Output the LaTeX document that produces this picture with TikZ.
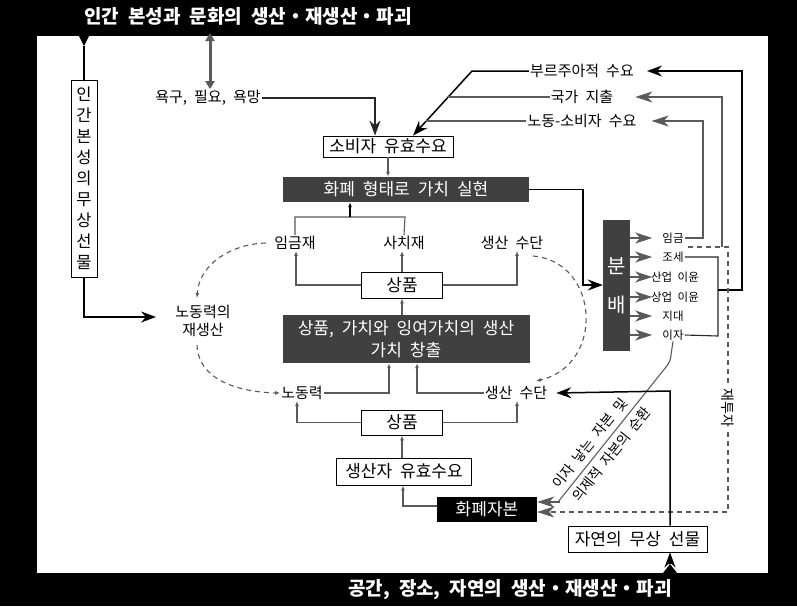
\documentclass[tikz,border=0pt]{standalone}
\usepackage{fontspec}
\setmainfont{Noto Sans CJK KR}[WordSpace=2.1]
\usetikzlibrary{arrows.meta,calc}
\definecolor{dk}{HTML}{404040}
\definecolor{gl}{HTML}{5A5A5A}
\begin{document}
\begin{tikzpicture}[x=1pt,y=-1pt,
  gline/.style={draw=gl, line width=1.1pt},
  bline/.style={draw=black, line width=1.5pt},
  kline/.style={draw=black!85, line width=1.1pt},
  sarr/.style={-{Latex[length=5pt,width=4pt]}},
  bigg/.style={-{Stealth[length=17pt,width=11pt,inset=5pt]}},
  bigb/.style={-{Stealth[length=15pt,width=11pt,inset=5pt]}},
  lbl/.style={font=\fontsize{15}{18}\selectfont, inner sep=1pt},
  sml/.style={font=\fontsize{11.5}{13}\selectfont, inner sep=1pt},
  wbox/.style={draw=black, line width=0.9pt, fill=white, inner sep=0pt, font=\fontsize{17}{19}\selectfont},
  dbox/.style={fill=dk, text=white, inner sep=0pt, font=\fontsize{17}{19}\selectfont},
  dashc/.style={draw=gl, line width=1.1pt, dash pattern=on 5pt off 4pt},
  ttl/.style={text=white, font=\bfseries\fontsize{19}{21}\selectfont, inner sep=0pt},
  diag/.style={rotate=51.3, inner sep=0pt, font=\fontsize{14}{16}\selectfont},
]
\useasboundingbox (0,0) rectangle (797,606);
\fill[black] (0,0) rectangle (797,606);
\fill[white] (37,36) rectangle (768,573);

% titles
\node[ttl] (t1) at (248,16) {인간 본성과 문화의 생산・재생산・파괴};
\node[ttl] (t2) at (510,590) {공간, 장소, 자연의 생산・재생산・파괴};

% triangles
\coordinate (tA) at (84,46);
\coordinate (tB) at (670,564);
\fill[black] (79,36) -- (89,36) -- (tA) -- cycle;
\fill[black] (663,573) -- (677,573) -- (tB) -- cycle;

% nodes
\node[wbox, minimum width=26, minimum height=197, align=center, font=\fontsize{16.5}{21}\selectfont] (gift) at (84,178.5)
  {인\\간\\본\\성\\의\\무\\상\\선\\물};
\node[lbl] (needs) at (208,98) {욕구, 필요, 욕망};
\node[lbl, align=center] (repro) at (203,321) {노동력의\\재생산};
\node[wbox, minimum width=130, minimum height=21] (conD) at (388,146.5) {소비자 유효수요};
\node[dbox, minimum width=246, minimum height=25] (real) at (406,189.5) {화폐 형태로 가치 실현};
\node[lbl] (wage) at (295,243) {임금재};
\node[lbl] (lux) at (404,243) {사치재};
\node[lbl] (mop1) at (512,243) {생산 수단};
\node[wbox, minimum width=81, minimum height=26] (com1) at (402,285) {상품};
\node[dbox, minimum width=247, minimum height=48, align=center, font=\fontsize{17}{22}\selectfont] (prod) at (406,339)
  {상품, 가치와 잉여가치의 생산\\가치 창출};
\node[lbl] (lab) at (302,393) {노동력};
\node[lbl] (mop2) at (516,393) {생산 수단};
\node[wbox, minimum width=81, minimum height=25] (com2) at (402,422.5) {상품};
\node[wbox, minimum width=135, minimum height=27] (prodD) at (404,471.5) {생산자 유효수요};
\node[fill=black, text=white, inner sep=0pt, minimum width=100, minimum height=25, font=\fontsize{17}{19}\selectfont] (mcap) at (487,509.5) {화폐자본};
\node[wbox, minimum width=139, minimum height=26] (nat) at (637.5,539) {자연의 무상 선물};

\node[dbox, minimum width=27, minimum height=131, align=center, font=\fontsize{20}{39}\selectfont] (dist) at (616.5,285.5) {분\\배};
\node[sml] (d1) at (673,238) {임금};
\node[sml] (d2) at (673,257) {조세};
\node[sml] (d3) at (675,277) {산업 이윤};
\node[sml] (d4) at (675,297) {상업 이윤};
\node[sml] (d5) at (673,316) {지대};
\node[sml] (d6) at (673,335) {이자};

\node[lbl] (bourg) at (582,71) {부르주아적 수요};
\node[lbl] (state) at (582,97) {국가 지출};
\node[lbl] (lcons) at (582,121) {노동-소비자 수요};

% top connections
\draw[draw=gl, line width=3pt, {Triangle[length=8pt,width=9pt]}-{Triangle[length=8pt,width=9pt]}] (210,33) -- (needs.north -| 210,0);
\draw[bline] (tA) -- (gift.north);
\draw[bline, bigb] (gift.south) |- (156,317);
\draw[kline, bigb] (needs.east) -| ([xshift=-13pt]conD.north);
\draw[bline, bigb] (bourg.west) -- (472,71) -- ([xshift=25pt]conD.north);
\draw[gline] (state.west) -- (448,97);
\draw[gline] (lcons.west) -- (426,121);
\draw[gline, sarr] (conD.south) -- (real.north -| conD.south);

% upper bracket
\draw[gline] (wage.north) -- (295,217) -- (405,217) -- (lux.north);
\draw[gline, sarr, draw=black] (350,217) -- (real.south -| 350,0);
\draw[gline, sarr] (com1.west) -| (wage.south -| 296,0);
\draw[gline, sarr] (com1.north) -- (lux.south -| com1.north);
\draw[gline, sarr] (com1.east) -| (mop1.south -| 517,0);
\draw[gline, sarr, line width=1.6pt] (prod.north -| com1.north) -- (com1.south);

% lower bracket
\draw[gline, sarr] (lab.east) -| (prod.south -| 389,0);
\draw[gline, sarr] (mop2.west) -| (prod.south -| 417,0);
\draw[gline, sarr] (com2.west) -| (lab.south -| 297,0);
\draw[gline, sarr] (com2.east) -| (mop2.south -| 517,0);
\draw[gline, sarr, line width=1.6pt] (prodD.north -| com2.south) -- (com2.south);
\draw[gline, sarr] (mcap.west |- 0,506) -| (prodD.south -| 403,0);

% dashed cycles
\draw[dashc, sarr] (266,243) .. controls (230,244) and (199,265) .. (197,298);
\draw[dashc, sarr] (197,345) .. controls (198,378) and (235,392) .. (lab.west);
\draw[dashc, sarr] (533,256) .. controls (600,262) and (605,365) .. (536,381);

% realisation -> distribution
\draw[bline, bigb] (real.east) -| (583,285) -- (dist.west |- 0,285);
\foreach \d in {d1,d2,d3,d4,d5,d6}{
  \draw[gline, bigg, line width=1.3pt] (dist.east |- \d) -- ++(22,0);
}

% right side returns
\draw[gline, bigg] (d1.east) -- (703,238) -- (703,121) -- ([xshift=14pt]lcons.east);
\draw[gline, bigg] (722,247) -- (722,97) -- ([xshift=21pt]state.east);
\draw[kline] (d2.east) -- (718,257) -- (718,336) -- (d6.east);
\draw[kline, bigb, draw=black] (718,290) -- (742,290) -- (742,71) -- ([xshift=12pt]bourg.east);

% reinvestment
\draw[dashc, bigg] (688,247) -- (728,247) -- (728,512) -- (mcap.east |- 0,512);
\node[fill=white, rotate=-90, inner sep=2pt, font=\fontsize{14}{16}\selectfont] (reinv) at (728,408) {재투자};

% interest-bearing capital
\draw[gline, rounded corners=4pt] (d6.south) -- (670,362) -- (558,502);
\draw[gline, bigg] (560,502) -- (mcap.east |- 0,502);
\node[diag] (c1) at (589.6,443.3) {이자 낳는 자본 및};
\node[diag] (c2) at (611.5,454.3) {의제적 자본의 순환};

% nature
\draw[bline, bigb] (tB) -- (nat.south -| tB);
\draw[bline, bigb] (nat.north -| tB) -- (670,391) -- ([xshift=8pt]mop2.east);
\end{tikzpicture}
\end{document}
